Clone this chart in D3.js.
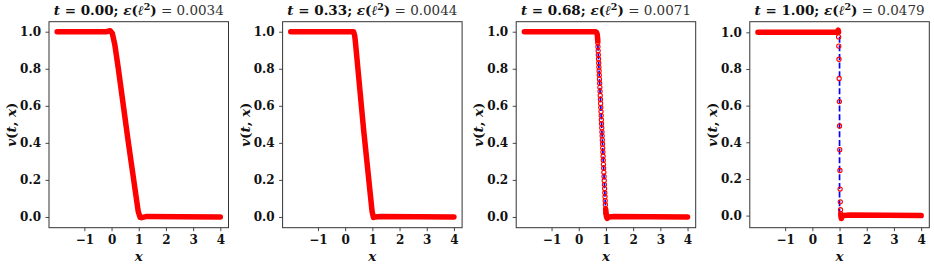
<!DOCTYPE html>
<html>
<head>
<meta charset="utf-8">
<style>
  body { margin: 0; background: #fff; }
  svg text { font-family: "DejaVu Serif", "Liberation Serif", serif; }
</style>
</head>
<body>
<svg width="934" height="266"></svg>

<script src="https://d3js.org/d3.v7.min.js"></script>

<script>
    // times and errors shown in the titles
    var times = ["0.00", "0.33", "0.68", "1.00"];
    var errors = ["0.0034", "0.0044", "0.0071", "0.0479"];

    var xTicks = [-1, 0, 1, 2, 3, 4];
    var yTicks = [0, 0.2, 0.4, 0.6, 0.8, 1.0];
    var xLim = [-2.3, 4.3];
    var yLims = [[-0.058, 1.054], [-0.058, 1.054], [-0.058, 1.054], [-0.066, 1.058]];

    // exact solution (blue dashed), one per panel
    var exact = [
        [[-2, 1], [0.00, 1], [1, 0], [4, 0]],
        [[-2, 1], [0.33, 1], [1, 0], [4, 0]],
        [[-2, 1], [0.68, 1], [1, 0], [4, 0]],
        [[-2, 1], [1.00, 1], [1, 0], [4, 0]]
    ];

    // prediction where the red markers merge into a solid band
    var bands = [
        [[[-2, 1.0], [-0.2, 1.0], [-0.05, 1.005], [0.03, 0.99], [0.12, 0.93], [0.25, 0.8], [0.62, 0.4], [0.98, 0.03], [1.05, -0.002], [1.1, -0.004], [1.3, 0.003], [2.5, 0.001], [4, 0.0]]],
        [[[-2, 1.0], [0.25, 1.0], [0.31, 1.0], [0.35, 0.98], [0.38, 0.94], [0.68, 0.47], [0.99, 0.03], [1.04, -0.003], [1.1, 0.0], [1.3, 0.003], [4, 0.0]]],
        [[[-2, 1.0], [0.6, 1.0], [0.65, 0.998], [0.68, 0.985], [0.7, 0.95]],
         [[0.99, 0.04], [1.02, 0.0], [1.05, -0.008], [1.1, 0.0], [1.3, 0.003], [4, 0.0]]],
        [[[-2, 1.0], [0.85, 1.0], [0.92, 1.004], [0.95, 1.012], [0.965, 1.0]],
         [[1.045, 0.002], [1.065, -0.016], [1.09, -0.006], [1.15, 0.0], [1.4, 0.003], [4, 0.0]]]
    ];

    // separate open markers visible on the steep part
    var p3x = [0.692, 0.699, 0.706, 0.713, 0.720, 0.727, 0.734, 0.741, 0.748, 0.755, 0.762, 0.769, 0.776, 0.783, 0.790, 0.797, 0.804, 0.811, 0.818, 0.825, 0.832, 0.839, 0.846, 0.853, 0.860, 0.867, 0.874, 0.881, 0.888, 0.895, 0.902, 0.909, 0.916, 0.923, 0.930, 0.937, 0.944, 0.951, 0.958, 0.965, 0.972, 0.979, 0.986, 0.993];
    var p3v = [0.963, 0.941, 0.919, 0.897, 0.875, 0.853, 0.831, 0.809, 0.788, 0.766, 0.744, 0.722, 0.700, 0.678, 0.656, 0.634, 0.613, 0.591, 0.569, 0.547, 0.525, 0.503, 0.481, 0.459, 0.438, 0.416, 0.394, 0.372, 0.350, 0.328, 0.306, 0.284, 0.263, 0.241, 0.219, 0.197, 0.175, 0.153, 0.131, 0.109, 0.088, 0.066, 0.044, 0.022];
    var p4x = [0.965, 0.972, 0.979, 0.986, 0.993, 1.000, 1.007, 1.014, 1.021, 1.028, 1.035, 1.042];
    var p4v = [0.975, 0.925, 0.853, 0.748, 0.622, 0.489, 0.360, 0.246, 0.145, 0.075, 0.032, 0.010];
    var markers = [[], [], d3.zip(p3x, p3v), d3.zip(p4x, p4v)];
</script>

<script>
    function makePanels() {
        var svg = d3.select("svg");

        var left0 = 49, step = 233.6, w = 179.5, top0 = 21.7, bottom0 = 227.7;
        var h = bottom0 - top0;

        times.forEach(function(t, i) {
            var g = svg.append("g")
                .attr("transform", "translate(" + (left0 + i * step) + "," + top0 + ")");

            var x = d3.scaleLinear().domain(xLim).range([0, w]);
            var y = d3.scaleLinear().domain(yLims[i]).range([h, 0]);

            var line = d3.line()
                .x(function(d) { return x(d[0]); })
                .y(function(d) { return y(d[1]); });

            var clip = "clip" + i;
            g.append("clipPath").attr("id", clip)
                .append("rect").attr("width", w).attr("height", h);

            var plot = g.append("g").attr("clip-path", "url(#" + clip + ")");

            // exact solution underneath
            plot.append("path")
                .attr("d", line(exact[i]))
                .attr("fill", "none")
                .attr("stroke", "#0000ff")
                .attr("stroke-width", 1.7)
                .attr("stroke-dasharray", "6,2.6");

            bands[i].forEach(function(seg) {
                plot.append("path")
                    .attr("d", line(seg))
                    .attr("fill", "none")
                    .attr("stroke", "#ff0000")
                    .attr("stroke-width", 5.5)
                    .attr("stroke-linecap", "round")
                    .attr("stroke-linejoin", "round");
            });

            plot.selectAll("circle")
                .data(markers[i])
                .enter().append("circle")
                .attr("cx", function(d) { return x(d[0]); })
                .attr("cy", function(d) { return y(d[1]); })
                .attr("r", 2.1)
                .attr("fill", "none")
                .attr("stroke", "#ff0000")
                .attr("stroke-width", 1.1);

            // axes
            var xa = g.append("g")
                .attr("transform", "translate(0," + h + ")")
                .call(d3.axisBottom(x).tickValues(xTicks).tickSize(3.5).tickSizeOuter(0).tickPadding(3)
                    .tickFormat(function(d) { return d < 0 ? "\u2212" + Math.abs(d) : d; }));
            var ya = g.append("g")
                .call(d3.axisLeft(y).tickValues(yTicks).tickSize(3.5).tickSizeOuter(0).tickPadding(4.5)
                    .tickFormat(d3.format(".1f")));

            [xa, ya].forEach(function(a) {
                a.select(".domain").remove();
                a.selectAll("line").attr("stroke", "#333").attr("stroke-width", 0.9);
                a.selectAll("text")
                    .attr("fill", "#111")
                    .style("font-family", "'DejaVu Serif', serif")
                    .style("font-size", "12px")
                    .style("font-weight", "bold");
            });
            xa.selectAll("text").attr("dy", "0.85em");

            g.append("rect")
                .attr("width", w).attr("height", h)
                .attr("fill", "none")
                .attr("stroke", "#333")
                .attr("stroke-width", 1);

            // labels
            g.append("text")
                .attr("x", w / 2).attr("y", 239.5)
                .attr("text-anchor", "middle")
                .attr("fill", "#111")
                .style("font-size", "13.5px")
                .style("font-style", "italic")
                .style("font-weight", "bold")
                .text("x");

            g.append("text")
                .attr("transform", "translate(-33," + (h / 2) + ") rotate(-90)")
                .attr("text-anchor", "middle")
                .attr("fill", "#111")
                .style("font-size", "13.5px")
                .style("font-weight", "bold")
                .call(function(s) {
                    s.append("tspan").style("font-style", "italic").text("v");
                    s.append("tspan").text("(");
                    s.append("tspan").style("font-style", "italic").text("t");
                    s.append("tspan").text(", ");
                    s.append("tspan").style("font-style", "italic").text("x");
                    s.append("tspan").text(")");
                });

            var title = g.append("text")
                .attr("x", w / 2).attr("y", -7)
                .attr("text-anchor", "middle")
                .style("font-size", "13.5px")
                .attr("fill", "#111");
            title.append("tspan").style("font-weight", "bold").style("font-style", "italic").text("t");
            title.append("tspan").style("font-weight", "bold").text(" = " + t + "; ");
            title.append("tspan").style("font-weight", "bold").style("font-style", "italic").text("\u03b5");
            title.append("tspan").style("font-weight", "bold").text("(");
            title.append("tspan").style("font-weight", "bold").style("font-style", "italic").text("\u2113");
            title.append("tspan").style("font-weight", "bold").style("font-size", "9.5px").attr("dy", -5).text("2");
            title.append("tspan").style("font-weight", "bold").attr("dy", 5).text(")");
            title.append("tspan").attr("fill", "#333").text(" = " + errors[i]);
        });
    }

    makePanels();
</script>
</body>
</html>
